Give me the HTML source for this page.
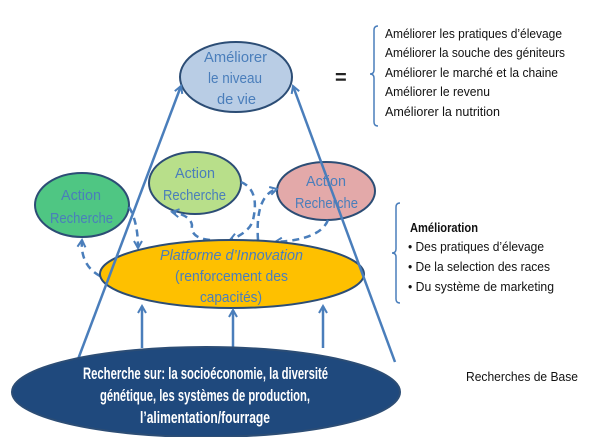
<!DOCTYPE html>
<html><head><meta charset="utf-8"><style>
html,body{margin:0;padding:0;background:#fff;width:600px;height:437px;overflow:hidden}
svg{display:block}
text{font-family:"Liberation Sans Narrow","Liberation Sans",sans-serif}
</style></head><body>
<svg width="600" height="437" viewBox="0 0 600 437" xmlns="http://www.w3.org/2000/svg">
<defs>
<marker id="a" markerWidth="10" markerHeight="10" refX="8" refY="5" orient="auto" markerUnits="userSpaceOnUse">
<path d="M1,1 L8,5 L1,9" fill="none" stroke="#4a7ebb" stroke-width="2"/></marker>
</defs>
<ellipse cx="236" cy="77" rx="56" ry="35" fill="#b9cde5" stroke="#2c4d75" stroke-width="2"/>
<text fill="#4a7ebb" font-size="15"><tspan x="204" y="62" textLength="63" lengthAdjust="spacingAndGlyphs">Améliorer</tspan><tspan x="208" y="83" textLength="54" lengthAdjust="spacingAndGlyphs">le niveau</tspan><tspan x="217" y="104" textLength="39" lengthAdjust="spacingAndGlyphs">de vie</tspan></text>
<text x="335" y="84" font-size="20" font-weight="bold" fill="#222">=</text>
<path d="M378,26 q-4,0 -4,4 v40 q0,4 -4,4 q4,0 4,4 v44 q0,4 4,4" fill="none" stroke="#4a7ebb" stroke-width="1.5"/>
<g font-size="13" fill="#111"><text x="385" y="38" textLength="177" lengthAdjust="spacingAndGlyphs">Améliorer les pratiques d’élevage</text>
<text x="385" y="57" textLength="180" lengthAdjust="spacingAndGlyphs">Améliorer la souche des géniteurs</text>
<text x="385" y="77" textLength="173" lengthAdjust="spacingAndGlyphs">Améliorer le marché et la chaine</text>
<text x="385" y="96" textLength="105" lengthAdjust="spacingAndGlyphs">Améliorer le revenu</text>
<text x="385" y="116" textLength="115" lengthAdjust="spacingAndGlyphs">Améliorer la nutrition</text></g>
<ellipse cx="82" cy="205" rx="47" ry="32" fill="#4fc683" stroke="#2c4d75" stroke-width="2"/>
<text fill="#4a7ebb" font-size="15"><tspan x="61" y="200" textLength="40" lengthAdjust="spacingAndGlyphs">Action</tspan><tspan x="50" y="223" textLength="63" lengthAdjust="spacingAndGlyphs">Recherche</tspan></text>
<ellipse cx="195" cy="183" rx="46" ry="31" fill="#b8df8a" stroke="#2c4d75" stroke-width="2"/>
<text fill="#4a7ebb" font-size="15"><tspan x="175" y="178" textLength="40" lengthAdjust="spacingAndGlyphs">Action</tspan><tspan x="163" y="200" textLength="63" lengthAdjust="spacingAndGlyphs">Recherche</tspan></text>
<ellipse cx="326" cy="191" rx="49" ry="29" fill="#e3a9a9" stroke="#2c4d75" stroke-width="2"/>
<text fill="#4a7ebb" font-size="15"><tspan x="306" y="186" textLength="40" lengthAdjust="spacingAndGlyphs">Action</tspan><tspan x="295" y="208" textLength="63" lengthAdjust="spacingAndGlyphs">Recherche</tspan></text>
<g fill="none" stroke="#4a7ebb" stroke-width="2.5" stroke-dasharray="7,5" marker-end="url(#a)">
<path d="M129,207 Q138,222 138,248"/>
<path d="M100,276 Q80,265 82,240"/>
<path d="M210,240 Q190,238 192,225 Q190,215 172,212"/>
<path d="M241,182 Q260,190 253,220 Q250,232 230,240"/>
<path d="M258,240 Q255,195 277,189"/>
<path d="M328,220 Q320,240 275,242"/>
</g>
<ellipse cx="232" cy="274" rx="132" ry="34" fill="#fec000" stroke="#2c4d75" stroke-width="2"/>
<text fill="#4a7ebb" font-size="15"><tspan x="160" y="260" font-style="italic" textLength="143" lengthAdjust="spacingAndGlyphs">Platforme d’Innovation</tspan><tspan x="175" y="281" textLength="113" lengthAdjust="spacingAndGlyphs">(renforcement des</tspan><tspan x="200" y="302" textLength="62" lengthAdjust="spacingAndGlyphs">capacités)</tspan></text>
<g stroke="#4a7ebb" stroke-width="2.5" fill="none" marker-end="url(#a)">
<line x1="77" y1="362" x2="181" y2="86"/>
<line x1="395" y1="362" x2="293" y2="86"/>
<line x1="142" y1="348" x2="142" y2="306"/>
<line x1="233" y1="348" x2="233" y2="310"/>
<line x1="323" y1="348" x2="323" y2="306"/>
</g>
<ellipse cx="206" cy="392" rx="194" ry="45" fill="#1f497d" stroke="#2c4d75" stroke-width="2"/>
<text fill="#fff" font-size="16.5" font-weight="bold"><tspan x="83" y="379" textLength="245" lengthAdjust="spacingAndGlyphs">Recherche sur:  la socioéconomie, la diversité</tspan><tspan x="100" y="401" textLength="210" lengthAdjust="spacingAndGlyphs">génétique, les systèmes de production,</tspan><tspan x="140" y="423" textLength="130" lengthAdjust="spacingAndGlyphs">l’alimentation/fourrage</tspan></text>
<text x="466" y="381" font-size="13" fill="#111" textLength="112" lengthAdjust="spacingAndGlyphs">Recherches de Base</text>
<path d="M400,203 q-4,0 -4,4 v42 q0,4 -4,4 q4,0 4,4 v42 q0,4 4,4" fill="none" stroke="#4a7ebb" stroke-width="1.5"/>
<g font-size="13" fill="#111"><text x="410" y="232" font-weight="bold" textLength="68" lengthAdjust="spacingAndGlyphs">Amélioration</text>
<text x="408" y="251" textLength="136" lengthAdjust="spacingAndGlyphs">•  Des pratiques d’élevage</text>
<text x="408" y="271" textLength="142" lengthAdjust="spacingAndGlyphs">•  De la selection  des races</text>
<text x="408" y="291" textLength="146" lengthAdjust="spacingAndGlyphs">•  Du système de marketing</text></g>
</svg>
</body></html>
